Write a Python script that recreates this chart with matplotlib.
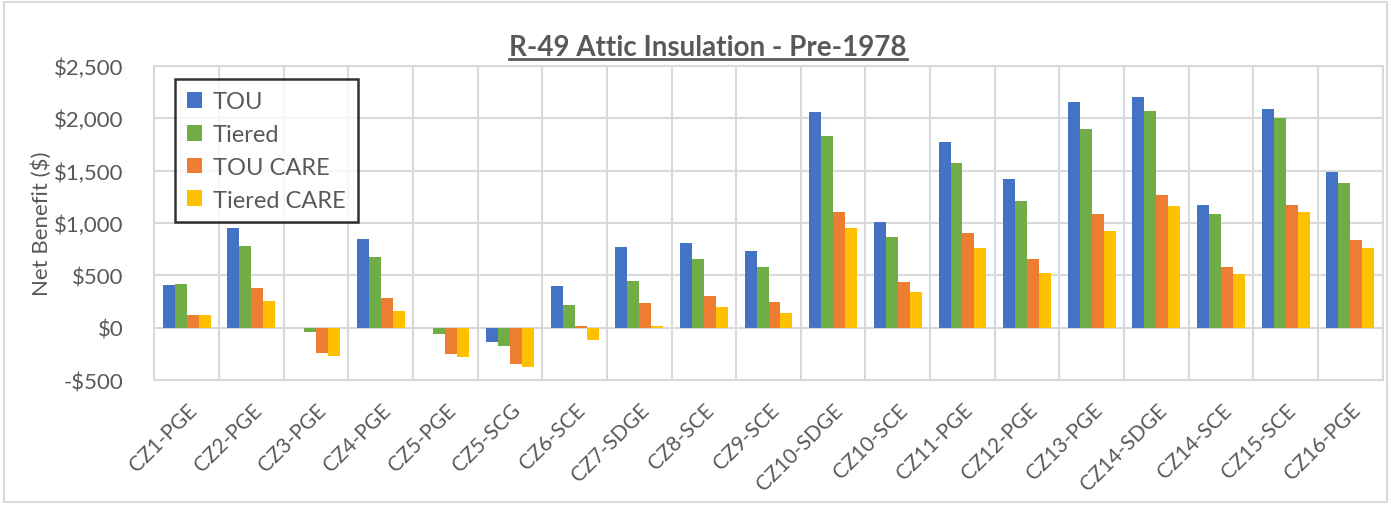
import numpy as np
import matplotlib
matplotlib.use('Agg')
import matplotlib.pyplot as plt
from matplotlib.lines import Line2D
from matplotlib.patches import Rectangle

plt.rcParams['font.family'] = ['Lato', 'DejaVu Sans']

# chart data
categories = ['CZ1-PGE', 'CZ2-PGE', 'CZ3-PGE', 'CZ4-PGE', 'CZ5-PGE', 'CZ5-SCG',
              'CZ6-SCE', 'CZ7-SDGE', 'CZ8-SCE', 'CZ9-SCE', 'CZ10-SDGE', 'CZ10-SCE',
              'CZ11-PGE', 'CZ12-PGE', 'CZ13-PGE', 'CZ14-SDGE', 'CZ14-SCE',
              'CZ15-SCE', 'CZ16-PGE']
tou = [404, 954, -3, 849, -3, -134, 394, 766, 808, 732, 2058, 1008,
       1768, 1422, 2154, 2204, 1167, 2087, 1482]
tiered = [417, 776, -44, 671, -57, -172, 213, 448, 658, 576, 1832, 868,
          1568, 1209, 1896, 2067, 1085, 2001, 1377]
tou_care = [121, 375, -239, 280, -248, -343, 19, 235, 299, 245, 1104, 436,
            903, 658, 1085, 1263, 576, 1167, 837]
tiered_care = [121, 258, -267, 162, -280, -375, -115, 19, 194, 140, 954, 340,
               763, 522, 922, 1158, 509, 1104, 763]
series_names = ['TOU', 'Tiered', 'TOU CARE', 'Tiered CARE']
yticks = [-500, 0, 500, 1000, 1500, 2000, 2500]

colors = ['#4472C4', '#70AD47', '#ED7D31', '#FFC000']
grid_color = '#d9d9d9'
text_color = '#595959'

fig = plt.figure(figsize=(13.91, 5.06), dpi=100)
ax = fig.add_axes([0.111, 0.247, 0.883, 0.621])

x = np.arange(len(categories))
w = 0.185
for i, (vals, name) in enumerate(zip([tou, tiered, tou_care, tiered_care], series_names)):
    ax.bar(x + (i - 1.5) * w, vals, width=w, color=colors[i], label=name, zorder=3)

ax.set_xlim(-0.5, len(categories) - 0.5)
ax.set_ylim(-500, 2500)
ax.set_yticks(yticks)
ax.set_yticklabels([('-$' if v < 0 else '$') + f'{abs(v):,}' for v in yticks],
                   fontsize=16, color=text_color)
ax.set_xticks(x)
ax.set_xticklabels(categories, rotation=45, ha='right', rotation_mode='anchor',
                   fontsize=15, color=text_color)
ax.tick_params(axis='x', length=0, pad=14)
ax.tick_params(axis='y', length=0, pad=22)

# grid lines: horizontal at ticks, vertical between categories
ax.set_xticks(np.arange(-0.5, len(categories), 1), minor=True)
ax.grid(which='minor', axis='x', color=grid_color, lw=1.5, zorder=0)
ax.grid(which='major', axis='y', color=grid_color, lw=1.5, zorder=0)
ax.tick_params(which='minor', length=0)
for s in ax.spines.values():
    s.set_color(grid_color)
    s.set_linewidth(1.5)

ax.set_ylabel('Net Benefit ($)', fontsize=16, color=text_color, labelpad=2)

leg = ax.legend(loc='upper left', bbox_to_anchor=(0.017, 0.957), fontsize=17,
                frameon=True, fancybox=False, handlelength=0.65, handleheight=0.65,
                handletextpad=0.45, labelspacing=0.5, borderpad=0.5,
                borderaxespad=0)
leg.get_frame().set_edgecolor('black')
leg.get_frame().set_linewidth(1.8)
for t in leg.get_texts():
    t.set_color(text_color)

title = fig.text(0.509, 0.89, 'R-49 Attic Insulation - Pre-1978', ha='center',
                 va='baseline', fontsize=20, fontweight='bold', color=text_color)

# underline the title
fig.canvas.draw()
bb = title.get_window_extent().transformed(fig.transFigure.inverted())
fig.add_artist(Line2D([bb.x0, bb.x1], [0.881, 0.881],
                      color=text_color, lw=2, transform=fig.transFigure))

# outer chart border
fig.add_artist(Rectangle((0.003, 0.006), 0.994, 0.988, transform=fig.transFigure,
                         fill=False, edgecolor=grid_color, lw=1.5))

fig.savefig('out.png', dpi=100)
